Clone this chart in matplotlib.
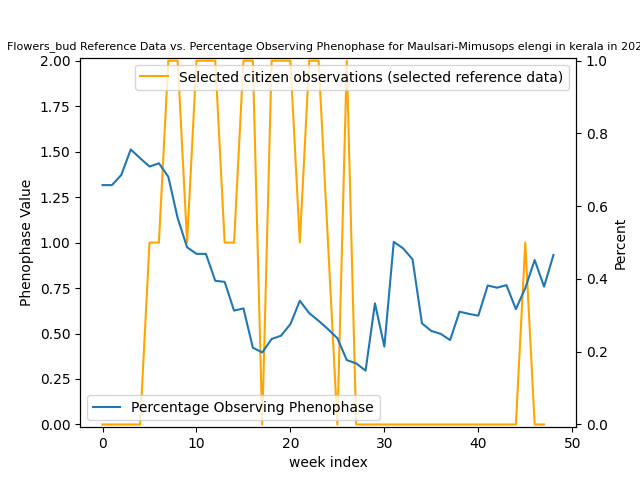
import matplotlib
matplotlib.use("Agg")
import matplotlib.pyplot as plt

weeks_ref = list(range(48))
ref_values = [0, 0, 0, 0, 0, 1, 1, 2, 2, 1,
              2, 2, 2, 1, 1, 2, 2, 0, 2, 2,
              2, 1, 2, 2, 1, 0, 2, 0, 0, 0,
              0, 0, 0, 0, 0, 0, 0, 0, 0, 0,
              0, 0, 0, 0, 0, 1, 0, 0]

weeks_pct = list(range(49))
pct_values = [0.658, 0.658, 0.686, 0.756, 0.732, 0.709, 0.718, 0.681, 0.567, 0.487,
              0.469, 0.469, 0.395, 0.392, 0.313, 0.319, 0.211, 0.198, 0.235, 0.244,
              0.276, 0.340, 0.306, 0.285, 0.262, 0.237, 0.177, 0.168, 0.148, 0.333,
              0.214, 0.502, 0.484, 0.454, 0.278, 0.257, 0.249, 0.232, 0.310, 0.304,
              0.299, 0.382, 0.376, 0.383, 0.317, 0.375, 0.452, 0.379, 0.466]

fig, ax1 = plt.subplots(figsize=(6.4, 4.8), dpi=100)
ax1.plot(weeks_ref, ref_values, color="orange",
         label="Selected citizen observations (selected reference data)")
ax1.set_ylim(-0.015, 2.017)
ax1.set_xlabel("week index")
ax1.set_ylabel("Phenophase Value")
ax1.legend(loc="upper right")

ax2 = ax1.twinx()
ax2.plot(weeks_pct, pct_values, color="#1f77b4", label="Percentage Observing Phenophase")
ax2.set_ylim(-0.0075, 1.0085)
ax2.set_ylabel("Percent")
ax2.legend(loc="lower left")

ax1.set_title("Flowers_bud Reference Data vs. Percentage Observing Phenophase for Maulsari-Mimusops elengi in kerala in 2023",
              fontsize=8)

fig.savefig("out.png", dpi=100)
